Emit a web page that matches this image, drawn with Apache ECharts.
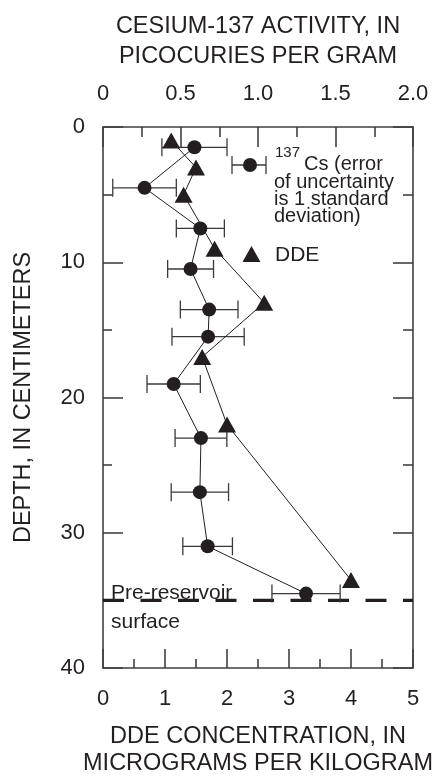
<!DOCTYPE html>
<html>
<head>
<meta charset="utf-8">
<script src="https://cdn.jsdelivr.net/npm/echarts@6/dist/echarts.min.js"></script>
<style>
  html, body { margin: 0; padding: 0; background: #ffffff; }
  #chart { width: 441px; height: 782px; }
</style>
</head>
<body>
<div id="chart"></div>
<script>
// DDE concentration in core (micrograms per kilogram) by depth (cm)
var ddeDepth = [1, 3, 5, 9, 13, 17, 22, 33.5];
var ddeValue = [1.1, 1.5, 1.3, 1.8, 2.6, 1.6, 2.0, 4.0];

// Cesium-137 activity (picocuries per gram), with 1 standard deviation
var csDepth = [1.5, 4.5, 7.5, 10.5, 13.5, 15.5, 19, 23, 27, 31, 34.5];
var csValue = [0.59, 0.268, 0.628, 0.565, 0.685, 0.678, 0.456, 0.632, 0.625, 0.675, 1.31];
var csError = [0.21, 0.205, 0.155, 0.148, 0.186, 0.233, 0.172, 0.167, 0.185, 0.16, 0.22];

// Pre-reservoir land surface depth (cm)
var preReservoirDepth = 35;

// Axis ranges and tick labels
var depthTicks = [0, 10, 20, 30, 40];
var ddeTicks = [0, 1, 2, 3, 4, 5];
var csTickLabels = ['0', '0.5', '1.0', '1.5', '2.0'];

var INK = '#231f20';
var AXIS = '#404040';
var FONT = '"Liberation Sans", Arial, Helvetica, sans-serif';

var ddeData = ddeValue.map(function (v, i) { return [v, ddeDepth[i]]; });
var csData = csValue.map(function (v, i) { return [v, csDepth[i]]; });
var csErrData = csValue.map(function (v, i) { return [v - csError[i], v + csError[i], csDepth[i]]; });

var chart = echarts.init(document.getElementById('chart'), null, { renderer: 'canvas' });

function frameLine() {
  return { show: true, onZero: false, lineStyle: { color: AXIS, width: 1.6 } };
}
function majorTick(len) {
  return { show: true, inside: true, length: len, lineStyle: { color: AXIS, width: 1.6 } };
}
function minorTick(len) {
  return { show: true, splitNumber: 2, length: len, lineStyle: { color: AXIS, width: 1.6 } };
}

var option = {
  animation: false,
  backgroundColor: '#ffffff',
  textStyle: { fontFamily: FONT, color: INK },
  grid: { left: 103, top: 127, width: 310, height: 550, containLabel: false },
  xAxis: [
    {
      type: 'value', position: 'bottom',
      min: ddeTicks[0], max: ddeTicks[ddeTicks.length - 1], interval: 1,
      name: 'DDE CONCENTRATION, IN\nMICROGRAMS PER KILOGRAM',
      nameLocation: 'middle', nameGap: 55,
      nameTextStyle: { fontSize: 23.5, color: INK, lineHeight: 27, fontFamily: FONT },
      axisLine: frameLine(),
      axisTick: majorTick(19),
      minorTick: minorTick(9),
      axisLabel: { fontSize: 22, color: INK, margin: 20, fontFamily: FONT },
      splitLine: { show: false }
    },
    {
      type: 'value', position: 'top',
      min: 0, max: 2, interval: 0.5,
      name: 'CESIUM-137 ACTIVITY, IN\nPICOCURIES PER GRAM',
      nameLocation: 'middle', nameGap: 55,
      nameTextStyle: { fontSize: 23.5, color: INK, lineHeight: 30, fontFamily: FONT },
      axisLine: frameLine(),
      axisTick: majorTick(20),
      minorTick: minorTick(10),
      axisLabel: {
        fontSize: 22, color: INK, margin: 22, fontFamily: FONT,
        formatter: function (v) { return csTickLabels[Math.round(v / 0.5)]; }
      },
      splitLine: { show: false }
    }
  ],
  yAxis: [
    {
      type: 'value', position: 'left', inverse: true,
      min: depthTicks[0], max: depthTicks[depthTicks.length - 1], interval: 10,
      name: 'DEPTH, IN CENTIMETERS',
      nameLocation: 'middle', nameGap: 67,
      nameTextStyle: { fontSize: 23.5, color: INK, fontFamily: FONT },
      axisLine: frameLine(),
      axisTick: majorTick(20),
      minorTick: minorTick(9),
      axisLabel: { fontSize: 22, color: INK, margin: 18, fontFamily: FONT },
      splitLine: { show: false }
    },
    {
      type: 'value', position: 'right', inverse: true,
      min: depthTicks[0], max: depthTicks[depthTicks.length - 1], interval: 10,
      axisLine: frameLine(),
      axisTick: majorTick(20),
      minorTick: minorTick(10),
      axisLabel: { show: false },
      splitLine: { show: false }
    }
  ],
  series: [
    {
      // pre-reservoir surface
      type: 'line', xAxisIndex: 0, yAxisIndex: 0,
      data: [[ddeTicks[0], preReservoirDepth], [ddeTicks[ddeTicks.length - 1], preReservoirDepth]],
      symbol: 'none', silent: true, z: 1,
      lineStyle: { color: INK, width: 3.2, type: [21, 16.5] }
    },
    {
      // Cs-137 error bars
      type: 'custom', xAxisIndex: 1, yAxisIndex: 0, z: 2,
      data: csErrData,
      renderItem: function (params, api) {
        var lo = api.coord([api.value(0), api.value(2)]);
        var hi = api.coord([api.value(1), api.value(2)]);
        var cap = 9;
        var style = { stroke: '#3a3a3a', lineWidth: 1.3 };
        return {
          type: 'group',
          children: [
            { type: 'line', shape: { x1: lo[0], y1: lo[1], x2: hi[0], y2: hi[1] }, style: style },
            { type: 'line', shape: { x1: lo[0], y1: lo[1] - cap, x2: lo[0], y2: lo[1] + cap }, style: style },
            { type: 'line', shape: { x1: hi[0], y1: hi[1] - cap, x2: hi[0], y2: hi[1] + cap }, style: style }
          ]
        };
      }
    },
    {
      name: 'DDE', type: 'line', xAxisIndex: 0, yAxisIndex: 0, z: 3,
      data: ddeData,
      symbol: 'triangle', symbolSize: [18, 16],
      lineStyle: { color: INK, width: 1 },
      itemStyle: { color: INK }
    },
    {
      name: 'Cs-137', type: 'line', xAxisIndex: 1, yAxisIndex: 0, z: 4,
      data: csData,
      symbol: 'circle', symbolSize: 14,
      lineStyle: { color: INK, width: 1 },
      itemStyle: { color: INK }
    }
  ],
  graphic: [
    // legend: Cs-137 with error bar
    { type: 'line', shape: { x1: 232, y1: 165, x2: 266, y2: 165 }, style: { stroke: '#3a3a3a', lineWidth: 1.3 } },
    { type: 'line', shape: { x1: 232, y1: 156, x2: 232, y2: 174 }, style: { stroke: '#3a3a3a', lineWidth: 1.3 } },
    { type: 'line', shape: { x1: 266, y1: 156, x2: 266, y2: 174 }, style: { stroke: '#3a3a3a', lineWidth: 1.3 } },
    { type: 'circle', shape: { cx: 250, cy: 165, r: 7 }, style: { fill: INK } },
    { type: 'text', x: 275, y: 153, style: { text: '137', font: '15px ' + FONT, fill: INK, verticalAlign: 'middle', align: 'left' } },
    { type: 'text', x: 304, y: 164.5, style: { text: 'Cs (error', font: '20px ' + FONT, fill: INK, verticalAlign: 'middle', align: 'left' } },
    { type: 'text', x: 274, y: 182, style: { text: 'of uncertainty', font: '20px ' + FONT, fill: INK, verticalAlign: 'middle', align: 'left' } },
    { type: 'text', x: 274, y: 199, style: { text: 'is 1 standard', font: '20px ' + FONT, fill: INK, verticalAlign: 'middle', align: 'left' } },
    { type: 'text', x: 274, y: 216.5, style: { text: 'deviation)', font: '20px ' + FONT, fill: INK, verticalAlign: 'middle', align: 'left' } },
    // legend: DDE
    { type: 'polygon', shape: { points: [[251.5, 246], [260.5, 262], [242.5, 262]] }, style: { fill: INK } },
    { type: 'text', x: 275, y: 255, style: { text: 'DDE', font: '21px ' + FONT, fill: INK, verticalAlign: 'middle', align: 'left' } },
    // pre-reservoir surface annotation
    { type: 'text', x: 111, y: 593, style: { text: 'Pre-reservoir', font: '21px ' + FONT, fill: INK, verticalAlign: 'middle', align: 'left' } },
    { type: 'text', x: 111, y: 622, style: { text: 'surface', font: '21px ' + FONT, fill: INK, verticalAlign: 'middle', align: 'left' } }
  ]
};

chart.setOption(option);
</script>
</body>
</html>
